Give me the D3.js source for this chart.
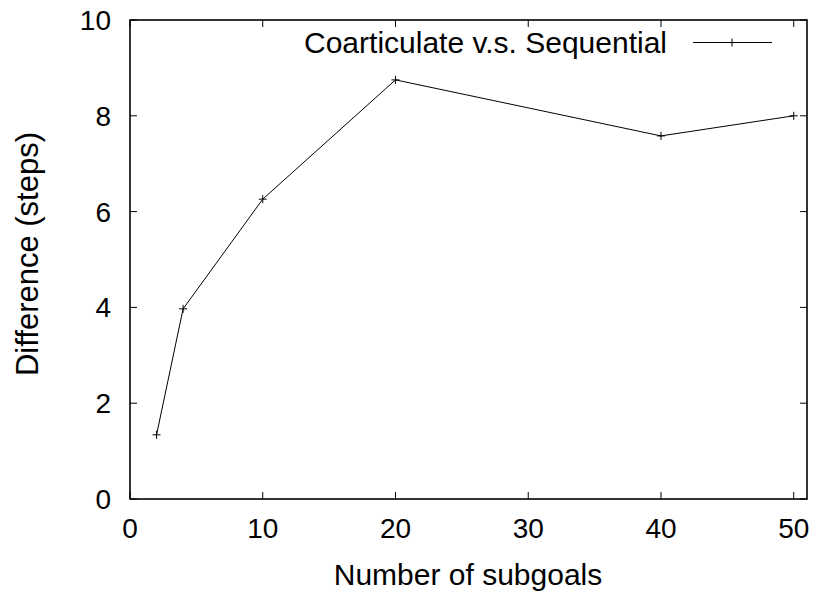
<!DOCTYPE html>
<html>
<head>
<meta charset="utf-8">
<script src="https://cdn.jsdelivr.net/npm/d3@7"></script>
<style>
  body { margin: 0; background: #fff; }
  text { font-family: "Liberation Sans", Arial, sans-serif; fill: #000; }
</style>
</head>
<body>
<svg id="chart" width="822" height="595"></svg>
<script>
// data
var subgoals = [2, 4, 10, 20, 40, 50];
var difference = [1.34, 3.97, 6.26, 8.75, 7.58, 8.0];
var seriesName = 'Coarticulate v.s. Sequential';
var xTicks = [0, 10, 20, 30, 40, 50];
var yTicks = [0, 2, 4, 6, 8, 10];

function main() {
    var svg = d3.select('#chart');
    svg.append('rect').attr('width', 822).attr('height', 595).attr('fill', '#fff');

    var left = 130, right = 807, top = 20, bottom = 499;
    var x = d3.scaleLinear().domain([0, 51]).range([left, right]);
    var y = d3.scaleLinear().domain([0, 10]).range([bottom, top]);
    var tick = 7;

    // ticks on all four sides, pointing inward
    var ticks = svg.append('g').attr('stroke', '#000').attr('stroke-width', 1);
    xTicks.forEach(function(t) {
        ticks.append('line').attr('x1', x(t)).attr('x2', x(t)).attr('y1', bottom).attr('y2', bottom - tick);
        ticks.append('line').attr('x1', x(t)).attr('x2', x(t)).attr('y1', top).attr('y2', top + tick);
    });
    yTicks.forEach(function(t) {
        ticks.append('line').attr('x1', left).attr('x2', left + tick).attr('y1', y(t)).attr('y2', y(t));
        ticks.append('line').attr('x1', right).attr('x2', right - tick).attr('y1', y(t)).attr('y2', y(t));
    });

    // tick labels
    svg.append('g').selectAll('text').data(xTicks).enter().append('text')
        .attr('x', function(d) { return x(d); })
        .attr('y', 538)
        .attr('text-anchor', 'middle')
        .attr('font-size', 28)
        .text(function(d) { return d; });
    svg.append('g').selectAll('text').data(yTicks).enter().append('text')
        .attr('x', 111)
        .attr('y', function(d) { return y(d) + 10; })
        .attr('text-anchor', 'end')
        .attr('font-size', 28)
        .text(function(d) { return d; });

    // axis titles
    svg.append('text').attr('x', 468).attr('y', 585)
        .attr('text-anchor', 'middle').attr('font-size', 30)
        .text('Number of subgoals');
    svg.append('text').attr('transform', 'translate(38,254) rotate(-90)')
        .attr('text-anchor', 'middle').attr('font-size', 31)
        .text('Difference (steps)');

    // the series
    var pts = subgoals.map(function(s, i) { return [s, difference[i]]; });
    var line = d3.line().x(function(d) { return x(d[0]); }).y(function(d) { return y(d[1]); });
    svg.append('path').datum(pts)
        .attr('d', line)
        .attr('fill', 'none')
        .attr('stroke', '#000')
        .attr('stroke-width', 1);

    var plus = function(g, cx, cy) {
        g.append('path')
            .attr('d', 'M' + (cx - 4) + ',' + cy + 'H' + (cx + 4) + 'M' + cx + ',' + (cy - 4) + 'V' + (cy + 4))
            .attr('stroke', '#000').attr('stroke-width', 1).attr('fill', 'none');
    };
    var marks = svg.append('g');
    pts.forEach(function(p) { plus(marks, x(p[0]), y(p[1])); });

    // legend
    svg.append('text').attr('x', 667).attr('y', 53)
        .attr('text-anchor', 'end').attr('font-size', 30)
        .text(seriesName);
    svg.append('line').attr('x1', 693).attr('x2', 772).attr('y1', 42.5).attr('y2', 42.5)
        .attr('stroke', '#000').attr('stroke-width', 1);
    plus(svg, 732, 42.5);

    // frame
    svg.append('rect')
        .attr('x', left).attr('y', top)
        .attr('width', right - left).attr('height', bottom - top)
        .attr('fill', 'none').attr('stroke', '#000').attr('stroke-width', 1.6);
}

main();
</script>
</body>
</html>
